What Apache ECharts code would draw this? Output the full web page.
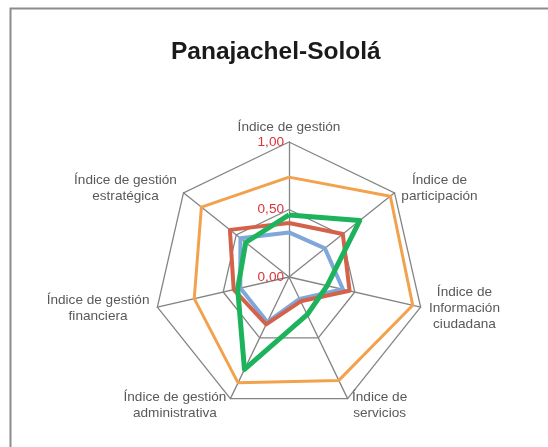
<!DOCTYPE html>
<html>
<head>
<meta charset="utf-8">
<script src="https://cdn.jsdelivr.net/npm/echarts@6/dist/echarts.min.js"></script>
<style>
html, body { margin: 0; padding: 0; background: #fff; }
#echart { width: 548px; height: 447px; }
</style>
</head>
<body>
<div id="echart"></div>
<script>
// indicadores en el orden del gráfico (sentido horario desde arriba)
var indicadores = [
    "Índice de gestión",
    "Índice de\nparticipación",
    "Índice de\nInformación\nciudadana",
    "Índice de\nservicios",
    "Índice de gestión\nadministrativa",
    "Índice de gestión\nfinanciera",
    "Índice de gestión\nestratégica"
];
var serieNaranja = [0.74, 0.96, 0.94, 0.85, 0.87, 0.72, 0.83];
var serieRoja = [0.40, 0.51, 0.46, 0.20, 0.39, 0.42, 0.56];
var serieAzul = [0.33, 0.34, 0.41, 0.18, 0.37, 0.37, 0.46];
var serieVerde = [0.46, 0.67, 0.29, 0.31, 0.76, 0.39, 0.41];
var escala = [0, 0.5, 1];

// echarts dibuja el radar en sentido antihorario
var orden = [0, 6, 5, 4, 3, 2, 1];
function reordenar(arr) {
    return orden.map(function (i) { return arr[i]; });
}

var fuente = '"Liberation Sans", Arial, sans-serif';
var tam = 13.6;
var ctx = document.createElement("canvas").getContext("2d");
ctx.font = tam + "px " + fuente;
function ancho(texto) {
    var w = 0;
    texto.split("\n").forEach(function (l) {
        w = Math.max(w, ctx.measureText(l).width);
    });
    return Math.ceil(w) + 2;
}

var rich = {};
var nombres = reordenar(indicadores);
var indicator = nombres.map(function (nombre, i) {
    rich["n" + i] = { width: ancho(nombre), align: "center", lineHeight: 16, fontSize: tam, fontFamily: fuente, color: "#595959" };
    var item = { name: nombre, min: escala[0], max: escala[escala.length - 1] };
    if (i === 0) {
        item.axisLabel = { show: true };
    }
    return item;
});

var chart = echarts.init(document.getElementById("echart"));
chart.setOption({
    backgroundColor: "#fff",
    animation: false,
    title: {
        text: "Panajachel-Sololá",
        left: 166,
        top: 35,
        textStyle: {
            fontFamily: fuente,
            fontSize: 24.5,
            fontWeight: "bold",
            color: "#1a1a1a"
        }
    },
    graphic: [{
        type: "rect",
        shape: { x: 10.5, y: 8.5, width: 600, height: 500 },
        style: { fill: "none", stroke: "#8c8c8c", lineWidth: 2 },
        silent: true
    }],
    radar: {
        center: [289, 277],
        radius: 135,
        splitNumber: escala.length - 1,
        startAngle: 90,
        shape: "polygon",
        nameGap: 7,
        axisName: {
            formatter: function (nombre) {
                var i = nombres.indexOf(nombre);
                return nombre.split("\n").map(function (l) {
                    return "{n" + i + "|" + l + "}";
                }).join("\n");
            },
            rich: rich
        },
        axisLine: { lineStyle: { color: "#848484", width: 1.3 } },
        splitLine: { lineStyle: { color: "#848484", width: 1.3 } },
        splitArea: { show: false },
        axisTick: { show: false },
        axisLabel: {
            show: false,
            color: "#d9343a",
            fontSize: 13.6,
            fontFamily: fuente,
            margin: 5,
            formatter: function (v) {
                return v.toFixed(2).replace(".", ",");
            }
        },
        indicator: indicator
    },
    series: [{
        type: "radar",
        symbol: "none",
        silent: true,
        data: [
            { name: "Serie 1", value: reordenar(serieNaranja), lineStyle: { color: "#F2A24C", width: 3 } },
            { name: "Serie 2", value: reordenar(serieAzul), lineStyle: { color: "#7FA7DA", width: 4 } },
            { name: "Serie 3", value: reordenar(serieRoja), lineStyle: { color: "#D4624A", width: 4 } },
            { name: "Serie 4", value: reordenar(serieVerde), lineStyle: { color: "#1DB35C", width: 5 } }
        ]
    }]
});
</script>
</body>
</html>
